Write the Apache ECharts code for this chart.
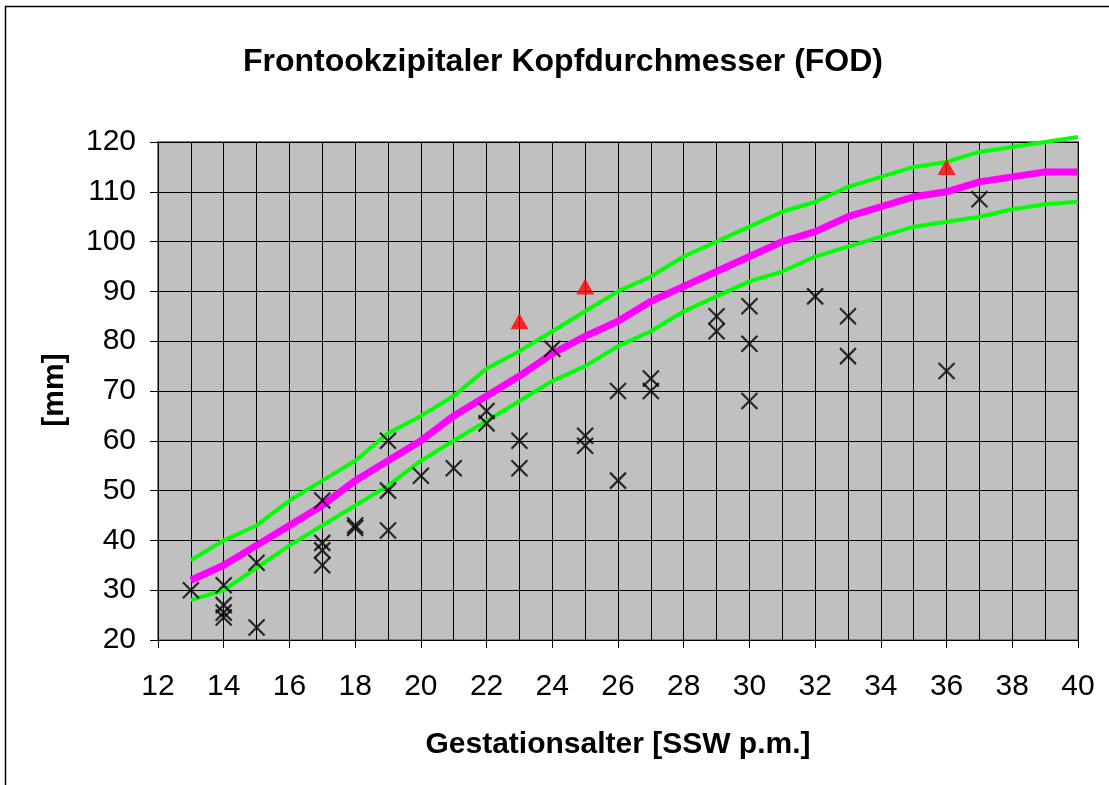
<!DOCTYPE html>
<html>
<head>
<meta charset="utf-8">
<script src="https://cdn.jsdelivr.net/npm/echarts@6/dist/echarts.min.js"></script>
<style>
  html, body { margin: 0; padding: 0; background: #fff; }
  #chart { width: 1109px; height: 785px; }
</style>
</head>
<body>
<div id="chart"></div>
<script>
// Perzentilkurven, SSW 13..40
const weeks = [13, 14, 15, 16, 17, 18, 19, 20, 21, 22, 23, 24, 25, 26, 27, 28, 29, 30, 31, 32, 33, 34, 35, 36, 37, 38, 39, 40];
const upperCurve = [36, 40, 43, 48, 52, 56, 61.5, 65, 69, 74.5, 78, 82, 86, 90, 93, 97, 100, 103, 106, 108, 111, 113, 115, 116, 118, 119, 120, 121];
const medianCurve = [32, 35, 39, 43, 47, 52, 56, 60, 65, 69, 73, 77.5, 81, 84, 88, 91, 94, 97, 100, 102, 105, 107, 109, 110, 112, 113, 114, 114];
const lowerCurve = [28, 30, 34.5, 39, 43, 47, 51, 56, 60, 64, 68, 72, 75, 79, 82, 86, 89, 92, 94, 97, 99, 101, 103, 104, 105, 106.5, 107.5, 108];

// Messwerte (Kreuze)
const crossWeeks = [13, 14, 14, 14, 14, 15, 15, 17, 17, 17, 17, 18, 18, 19, 19, 19, 20, 21, 22, 22, 23, 23, 24, 25, 25, 26, 26, 27, 27, 29, 29, 30, 30, 30, 32, 33, 33, 36, 37];
const crossValues = [30, 31, 27, 25.5, 24.5, 35.5, 22.5, 48, 39.5, 38, 35, 43, 42.5, 60, 50, 42, 53, 54.5, 66, 63.5, 60, 54.5, 78.5, 61, 59, 70, 52, 72.5, 70, 85, 82, 87, 79.5, 68, 89, 85, 77, 74, 108.5];

// Messwerte (Dreiecke)
const triWeeks = [23, 25, 36];
const triValues = [84, 91, 115];

const xTicks = { min: 12, max: 40, step: 2 };
const yTicks = { min: 20, max: 120, step: 10 };

const font = 'Liberation Sans, Arial, sans-serif';
const zip = (xs, ys) => xs.map((x, i) => [x, ys[i]]);

const chart = echarts.init(document.getElementById('chart'));

const option = {
  backgroundColor: '#fff',
  animation: false,
  title: {
    text: 'Frontookzipitaler Kopfdurchmesser (FOD)',
    left: 558,
    top: 41,
    textAlign: 'center',
    textStyle: { fontFamily: font, fontSize: 32, fontWeight: 'bold', color: '#000' }
  },
  graphic: [
    {
      type: 'rect',
      shape: { x: 5.5, y: 6.5, width: 1200, height: 900 },
      style: { fill: 'none', stroke: '#000', lineWidth: 1.5 },
      silent: true
    },
    {
      type: 'text',
      x: 55,
      y: 390,
      rotation: Math.PI / 2,
      style: {
        text: '[mm]',
        fontFamily: font,
        fontSize: 30,
        fontWeight: 'bold',
        fill: '#000',
        align: 'center',
        verticalAlign: 'middle'
      }
    }
  ],
  grid: {
    left: 158,
    right: 31,
    top: 142,
    bottom: 145,
    show: true,
    backgroundColor: '#C0C0C0',
    borderColor: '#808080',
    borderWidth: 2
  },
  xAxis: {
    type: 'value',
    min: xTicks.min,
    max: xTicks.max,
    interval: xTicks.step,
    name: 'Gestationsalter [SSW p.m.]',
    nameLocation: 'middle',
    nameGap: 90,
    nameTextStyle: { fontFamily: font, fontSize: 30, fontWeight: 'bold', color: '#000' },
    axisLine: { show: true, onZero: false, lineStyle: { color: '#000', width: 1 } },
    axisTick: { show: true, inside: false, length: 8, lineStyle: { color: '#000' } },
    axisLabel: { fontFamily: font, fontSize: 30, color: '#000', margin: 32 },
    splitLine: { show: true, lineStyle: { color: '#000', width: 1 } },
    minorTick: { show: false, splitNumber: 2 },
    minorSplitLine: { show: true, lineStyle: { color: '#000', width: 1 } }
  },
  yAxis: {
    type: 'value',
    min: yTicks.min,
    max: yTicks.max,
    interval: yTicks.step,
    axisLine: { show: true, onZero: false, lineStyle: { color: '#000', width: 1 } },
    axisTick: { show: true, inside: false, length: 8, lineStyle: { color: '#000' } },
    axisLabel: { fontFamily: font, fontSize: 30, color: '#000', margin: 22 },
    splitLine: { show: true, lineStyle: { color: '#000', width: 1 } }
  },
  series: [
    {
      name: 'upper',
      type: 'line',
      data: zip(weeks, upperCurve),
      showSymbol: false,
      clip: false,
      lineStyle: { color: '#00FF00', width: 4 },
      z: 2
    },
    {
      name: 'lower',
      type: 'line',
      data: zip(weeks, lowerCurve),
      showSymbol: false,
      clip: false,
      lineStyle: { color: '#00FF00', width: 4 },
      z: 2
    },
    {
      name: 'median',
      type: 'line',
      data: zip(weeks, medianCurve),
      showSymbol: false,
      clip: false,
      lineStyle: { color: '#FF00FF', width: 7 },
      z: 3
    },
    {
      name: 'kreuze',
      type: 'scatter',
      data: zip(crossWeeks, crossValues),
      symbol: 'path://M0,0L10,10M10,0L0,10',
      symbolSize: 16,
      itemStyle: { color: 'none', borderColor: '#000', borderWidth: 2.2 },
      z: 4
    },
    {
      name: 'dreiecke',
      type: 'scatter',
      data: zip(triWeeks, triValues),
      symbol: 'triangle',
      symbolSize: [18, 16],
      itemStyle: { color: '#FF0000' },
      z: 5
    }
  ]
};

chart.setOption(option);
</script>
</body>
</html>
